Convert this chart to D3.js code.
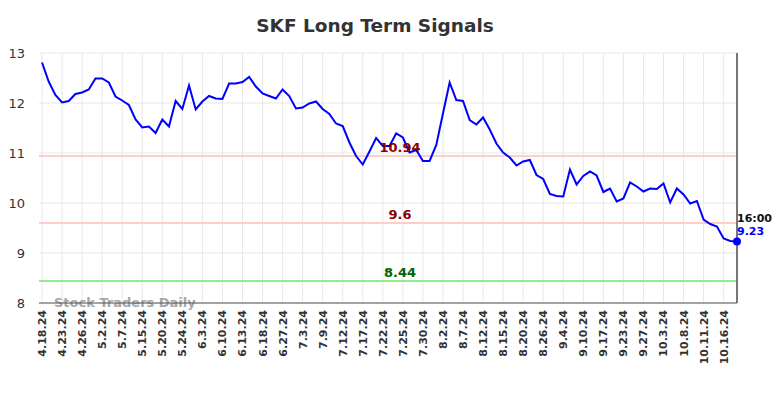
<!DOCTYPE html>
<html>
<head>
<meta charset="utf-8">
<script src="https://cdn.jsdelivr.net/npm/d3@7"></script>
<style>
html,body{margin:0;padding:0;background:#fff;}
svg{display:block;font-family:"DejaVu Sans",sans-serif;}
</style>
</head>
<body>
<svg id="chart" width="784" height="398"></svg>
<script>
const tickLabels = ["4.18.24","4.23.24","4.26.24","5.2.24","5.7.24","5.15.24","5.20.24","5.24.24","6.3.24","6.10.24","6.13.24","6.18.24","6.27.24","7.3.24","7.9.24","7.12.24","7.17.24","7.22.24","7.25.24","7.30.24","8.2.24","8.7.24","8.12.24","8.15.24","8.20.24","8.26.24","9.4.24","9.10.24","9.17.24","9.23.24","9.27.24","10.3.24","10.8.24","10.11.24","10.16.24"];
const prices = [12.81,12.43,12.16,12.01,12.04,12.18,12.21,12.27,12.49,12.49,
12.41,12.13,12.05,11.96,11.67,11.51,11.53,11.40,11.67,11.53,
12.04,11.88,12.35,11.87,12.03,12.14,12.09,12.08,12.39,12.39,
12.42,12.52,12.33,12.19,12.14,12.09,12.27,12.14,11.89,11.91,
11.99,12.03,11.88,11.78,11.59,11.54,11.21,10.94,10.77,11.03,
11.30,11.14,11.14,11.39,11.31,11.01,11.06,10.84,10.84,11.16,
11.79,12.41,12.06,12.04,11.66,11.57,11.71,11.47,11.19,11.01,
10.91,10.75,10.83,10.86,10.56,10.48,10.18,10.14,10.13,10.67,
10.37,10.54,10.63,10.55,10.22,10.29,10.03,10.09,10.41,10.33,
10.23,10.29,10.28,10.39,10.01,10.29,10.17,9.99,10.04,9.67,
9.58,9.53,9.29,9.24,9.23];
const yTicks = [8,9,10,11,12,13];
const levels = [10.94, 9.6, 8.44];
const levelLineColors = ["#ffcccc","#ffcccc","#90ee90"];
const levelTextColors = ["#8b0000","#8b0000","#006400"];
const labelEvery = 3;
const lastTime = "16:00";
const title = "SKF Long Term Signals";
const watermark = "Stock Traders Daily";

const svg = d3.select("#chart");
const L = 42, R = 737, T = 53, B = 303;
const x = d3.scaleLinear().domain([0, prices.length - 1]).range([L, R]);
const y = d3.scaleLinear().domain([8, 13]).range([B, T]);

// title
svg.append("text").attr("x", 375).attr("y", 32).attr("text-anchor", "middle")
  .attr("font-size", 18.5).attr("font-weight", "bold").attr("fill", "#333").text(title);

// horizontal grid
svg.append("g").selectAll("line").data(yTicks).join("line")
  .attr("x1", L - 3).attr("x2", R).attr("y1", d => y(d)).attr("y2", d => y(d))
  .attr("stroke", "#e8e8e8").attr("stroke-width", 1);

// vertical grid
const tickIdx = tickLabels.map((d, i) => i * labelEvery);
svg.append("g").selectAll("line").data(tickIdx).join("line")
  .attr("x1", d => x(d)).attr("x2", d => x(d)).attr("y1", T).attr("y2", B)
  .attr("stroke", "#e8e8e8").attr("stroke-width", 1);

// y labels
svg.append("g").selectAll("text").data(yTicks).join("text")
  .attr("x", 25).attr("y", d => y(d) + 5).attr("text-anchor", "end")
  .attr("font-size", 13).attr("fill", "#333").text(d => d);

// level lines
svg.append("g").selectAll("line").data(levels).join("line")
  .attr("x1", L - 3).attr("x2", R).attr("y1", d => y(d)).attr("y2", d => y(d))
  .attr("stroke", (d, i) => levelLineColors[i]).attr("stroke-width", 2);

// watermark
svg.append("text").attr("x", 54).attr("y", 307).attr("font-size", 13)
  .attr("font-weight", "bold").attr("fill", "#999").attr("opacity", 0.85).text(watermark);

// axis lines
svg.append("line").attr("x1", L - 3).attr("x2", R).attr("y1", B).attr("y2", B)
  .attr("stroke", "#555").attr("stroke-width", 1.2);
svg.append("line").attr("x1", R).attr("x2", R).attr("y1", T).attr("y2", B)
  .attr("stroke", "#777").attr("stroke-width", 2);

// price line
svg.append("path").datum(prices)
  .attr("d", d3.line().x((d, i) => x(i)).y(d => y(d)))
  .attr("fill", "none").attr("stroke", "#0000ff").attr("stroke-width", 2);

// level labels
svg.append("g").selectAll("text").data(levels).join("text")
  .attr("x", 400).attr("y", d => y(d) - 4).attr("text-anchor", "middle")
  .attr("font-size", 13).attr("font-weight", "bold")
  .attr("fill", (d, i) => levelTextColors[i]).text(d => d);

// end point
const last = prices.length - 1;
svg.append("circle").attr("cx", x(last)).attr("cy", y(prices[last])).attr("r", 4).attr("fill", "#0000ff");
svg.append("text").attr("x", x(last)).attr("y", 222).attr("font-size", 11)
  .attr("font-weight", "bold").attr("fill", "#111").text(lastTime);
svg.append("text").attr("x", x(last)).attr("y", 235).attr("font-size", 11)
  .attr("font-weight", "bold").attr("fill", "#0000ff").text(prices[last]);

// x labels
svg.append("g").selectAll("text").data(tickIdx).join("text")
  .attr("transform", d => `translate(${x(d) + 4},${B + 7}) rotate(-90)`)
  .attr("text-anchor", "end").attr("font-size", 11).attr("font-weight", "bold")
  .attr("fill", "#333").text((d, i) => tickLabels[i]);
</script>
</body>
</html>
